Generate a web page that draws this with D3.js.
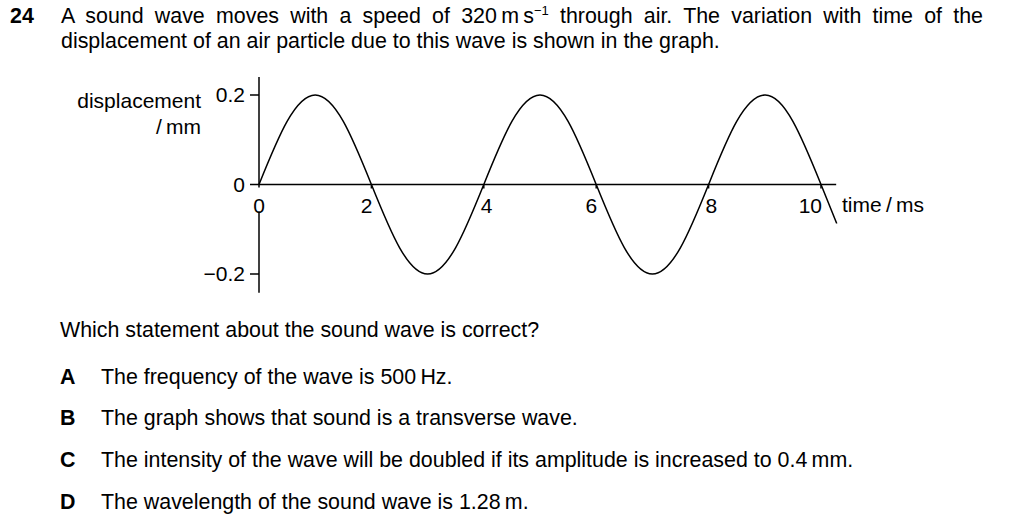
<!DOCTYPE html>
<html><head><meta charset="utf-8">
<script src="https://cdn.jsdelivr.net/npm/d3@7"></script>
<style>
body{margin:0;background:#fff;}
svg text{font-family:"Liberation Sans",Arial,sans-serif;fill:#000;}
</style></head>
<body><svg id="c" width="1024" height="525"></svg>
<script>
// ---- data ----
const xTicks = [0, 2, 4, 6, 8, 10];
const yTicks = [0.2, 0, -0.2];
const yTickLabels = ["0.2", "0", "\u22120.2"];
// displacement (mm) read at time (ms) from the graph
const times = [0, 0.5, 1, 1.5, 2, 2.5, 3, 3.5, 4, 4.5, 5, 5.5, 6, 6.5, 7, 7.5, 8, 8.5, 9, 9.5, 10, 10.28];
const disp  = [0, 0.141, 0.2, 0.141, 0, -0.141, -0.2, -0.141, 0, 0.141, 0.2, 0.141, 0, -0.141, -0.2, -0.141, 0, 0.141, 0.2, 0.141, 0, -0.087];
const xLabelSide = ["mid", "left", "right", "left", "right", "left"];
const options = [
  ["A", "The frequency of the wave is 500\u2009Hz."],
  ["B", "The graph shows that sound is a transverse wave."],
  ["C", "The intensity of the wave will be doubled if its amplitude is increased to 0.4\u2009mm."],
  ["D", "The wavelength of the sound wave is 1.28\u2009m."]
];

const FS = "21px";
const FB = "21.4px";
const svg = d3.select("#c");
const x = d3.scaleLinear().domain([0, 10]).range([259, 821]);
const y = d3.scaleLinear().domain([-0.2, 0.2]).range([274, 95]);

// header text
svg.append("text").attr("x", 10).attr("y", 23).attr("font-weight", "bold").style("font-size", FB).text("24");
const h1 = svg.append("text").attr("x", 61).attr("y", 23).style("font-size", FB);
h1.append("tspan").text("A sound wave moves with a speed of 320\u2009m\u2009s");
h1.append("tspan").attr("dy", -8).style("font-size", "13px").text("\u22121");
h1.append("tspan").attr("dy", 8).text(" through air. The variation with time of the");
// justify first line to the right margin
{
  const target = 983 - 61;
  const cur = h1.node().getComputedTextLength();
  const nSp = (h1.text().match(/ /g) || []).length;
  h1.style("word-spacing", ((target - cur) / nSp) + "px");
}
svg.append("text").attr("x", 61).attr("y", 48).style("font-size", FB)
  .text("displacement of an air particle due to this wave is shown in the graph.");

// axes lines
const g = svg.append("g").attr("stroke", "#000").attr("stroke-width", 1.5).attr("fill", "none");
g.append("line").attr("x1", x(0)).attr("x2", x(0)).attr("y1", y(0.24)).attr("y2", y(0) + 3);
g.append("line").attr("x1", x(0)).attr("x2", x(0)).attr("y1", y(0) + 27).attr("y2", y(-0.242));
g.append("line").attr("x1", x(0) - 9).attr("x2", x(10.27)).attr("y1", y(0)).attr("y2", y(0));

// y ticks
yTicks.forEach((v, i) => {
  if (v !== 0) g.append("line").attr("x1", x(0) - 9).attr("x2", x(0)).attr("y1", y(v)).attr("y2", y(v));
  svg.append("text").attr("x", x(0) - 14).attr("y", y(v) + 7).attr("text-anchor", "end")
    .style("font-size", FS).text(yTickLabels[i]);
});
// x ticks
xTicks.forEach((v, i) => {
  if (v !== 0) g.append("line").attr("x1", x(v)).attr("x2", x(v)).attr("y1", y(0)).attr("y2", y(0) + 4);
  const side = xLabelSide[i];
  const tx = side === "mid" ? x(v) : side === "left" ? x(v) + 1 : x(v) - 3;
  svg.append("text").attr("x", tx).attr("y", y(0) + 28)
    .attr("text-anchor", side === "mid" ? "middle" : side === "left" ? "end" : "start")
    .style("font-size", FS).text(v);
});

// axis titles
svg.append("text").attr("x", 201).attr("y", 108).attr("text-anchor", "end").style("font-size", FS).text("displacement");
svg.append("text").attr("x", 201).attr("y", 134).attr("text-anchor", "end").style("font-size", FS).text("/\u2009mm");
svg.append("text").attr("x", 842).attr("y", 212).style("font-size", FS).text("time\u2009/\u2009ms");

// wave
const pts = times.map((t, i) => [t, disp[i]]);
svg.append("path").datum(pts)
  .attr("d", d3.line().x(d => x(d[0])).y(d => y(d[1])).curve(d3.curveNatural))
  .attr("fill", "none").attr("stroke", "#000").attr("stroke-width", 1.5);

// question
svg.append("text").attr("x", 60).attr("y", 337).style("font-size", FB)
  .text("Which statement about the sound wave is correct?");
const oy = [384, 425, 467, 509];
options.forEach((o, i) => {
  svg.append("text").attr("x", 60).attr("y", oy[i]).attr("font-weight", "bold").style("font-size", FB).text(o[0]);
  svg.append("text").attr("x", 101).attr("y", oy[i]).style("font-size", FB).text(o[1]);
});
</script></body></html>
